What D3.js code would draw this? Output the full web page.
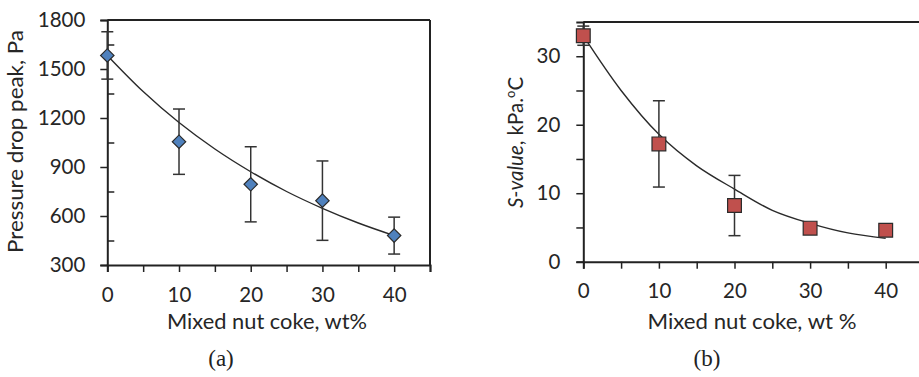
<!DOCTYPE html>
<html>
<head>
<meta charset="utf-8">
<script src="https://cdn.jsdelivr.net/npm/d3@7"></script>
<style>
  html, body { margin: 0; padding: 0; background: #fff; }
  svg { display: block; }
</style>
</head>
<body>
<svg id="chart" width="919" height="377"></svg>
<script>
// ---- data ----
const cokeContent = [0, 10, 20, 30, 40];            // Mixed nut coke, wt%
const pressurePeak = [1583, 1055, 794, 694, 480];    // Pa
const pressureErr  = [145, 200, 230, 243, 113];      // Pa
const sValue       = [33.0, 17.2, 8.2, 4.9, 4.6];    // kPa.°C
const sValueErr    = [1.4, 6.3, 4.4, 0, 0];

const trendX        = [0, 5, 10, 15, 20, 25, 30, 35, 40];
const pressureTrend = [1583, 1362, 1172, 1010, 871, 750, 647, 557, 480];
const sValueTrend   = [33.0, 25.0, 18.6, 14.0, 10.6, 7.5, 5.6, 4.2, 3.4];

const xTicks = [0, 10, 20, 30, 40];
const xMinorTicks = [5, 15, 25, 35, 45];
const pressureTicks = [300, 600, 900, 1200, 1500, 1800];
const pressureMinorTicks = [450, 750, 1050, 1350, 1650];
const sValueTicks = [0, 10, 20, 30];
const sValueMinorTicks = [5, 15, 25];

// ---- drawing ----
const svg = d3.select("#chart");
const AXIS = "#222";
const TICKFONT = "Lato, 'Open Sans', sans-serif";

function panel(cfg) {
  const g = svg.append("g");
  const x = d3.scaleLinear().domain([0, 45]).range(cfg.xRange);
  const y = d3.scaleLinear().domain(cfg.yDomain).range(cfg.yRange);

  // frame (top and right)
  g.append("line").attr("x1", x(0)).attr("x2", x(45)).attr("y1", y.range()[1]).attr("y2", y.range()[1])
    .attr("stroke", AXIS).attr("stroke-width", 2);
  g.append("line").attr("x1", x(45)).attr("x2", x(45)).attr("y1", y.range()[0]).attr("y2", y.range()[1])
    .attr("stroke", AXIS).attr("stroke-width", 2);

  // x axis
  g.append("g").attr("transform", `translate(0,${y.range()[0]})`)
    .call(d3.axisBottom(x).tickValues(xTicks).tickSize(7).tickPadding(15).tickFormat(d3.format("d")));
  g.append("g").attr("transform", `translate(0,${y.range()[0]})`)
    .call(d3.axisBottom(x).tickValues(xMinorTicks).tickSize(7).tickFormat(""))
    .select(".domain").remove();

  // y axis
  g.append("g").attr("transform", `translate(${x(0)},0)`)
    .call(d3.axisLeft(y).tickValues(cfg.yTicks).tickSize(7).tickPadding(cfg.yPad).tickFormat(d3.format("d")));
  g.append("g").attr("transform", `translate(${x(0)},0)`)
    .call(d3.axisLeft(y).tickValues(cfg.yMinor).tickSize(cfg.minorInside ? -7 : 7).tickFormat(""))
    .select(".domain").remove();

  g.selectAll(".domain").attr("stroke", AXIS).attr("stroke-width", 2);
  g.selectAll(".tick line").attr("stroke", AXIS).attr("stroke-width", 1.5);
  g.selectAll(".tick text").attr("font-family", TICKFONT).attr("font-size", 20.5).attr("fill", "#262626");

  // trend curve
  const line = d3.line().x((d, i) => x(trendX[i])).y(d => y(d)).curve(d3.curveCatmullRom);
  g.append("path").datum(cfg.trend).attr("d", line)
    .attr("fill", "none").attr("stroke", "#2a2a2a").attr("stroke-width", 1.4);

  // error bars
  const eb = g.append("g").attr("stroke", "#333").attr("stroke-width", 1.5);
  cfg.values.forEach((v, i) => {
    const e = cfg.errors[i];
    if (!e) return;
    const cx = x(cokeContent[i]);
    eb.append("line").attr("x1", cx).attr("x2", cx).attr("y1", y(v - e)).attr("y2", y(v + e));
    eb.append("line").attr("x1", cx - 6).attr("x2", cx + 6).attr("y1", y(v - e)).attr("y2", y(v - e));
    eb.append("line").attr("x1", cx - 6).attr("x2", cx + 6).attr("y1", y(v + e)).attr("y2", y(v + e));
  });

  // markers
  const sym = d3.symbol().type(cfg.symbol).size(cfg.symbolSize);
  g.selectAll("path.mark").data(cfg.values).join("path").attr("class", "mark")
    .attr("d", sym)
    .attr("transform", (d, i) => `translate(${x(cokeContent[i])},${y(d)})${cfg.rotate ? " rotate(45)" : ""}`)
    .attr("fill", cfg.fill).attr("stroke", "#2b2b2b").attr("stroke-width", 1.2);

  // x title
  g.append("text").attr("x", cfg.xTitleX).attr("y", 329).attr("text-anchor", "middle")
    .attr("font-family", TICKFONT).attr("font-size", 21).attr("fill", "#262626")
    .attr("textLength", cfg.xTitleLen).attr("lengthAdjust", "spacingAndGlyphs")
    .text(cfg.xTitle);

  // panel label
  g.append("text").attr("x", cfg.labelX).attr("y", 366).attr("text-anchor", "middle")
    .attr("font-family", "'Liberation Serif', 'Times New Roman', serif").attr("font-size", 23).attr("fill", "#222")
    .text(cfg.label);
  return {g, x, y};
}

// Panel (a)
const pa = panel({
  xRange: [107.3, 430], yDomain: [300, 1800], yRange: [265, 20],
  yTicks: pressureTicks, yMinor: pressureMinorTicks, minorInside: true, yPad: 15,
  values: pressurePeak, errors: pressureErr, trend: pressureTrend,
  symbol: d3.symbolSquare, symbolSize: 90, rotate: true, fill: "#4f81bd",
  xTitle: "Mixed nut coke, wt%", xTitleX: 267, xTitleLen: 200,
  label: "(a)", labelX: 221
});
pa.g.append("text")
  .attr("transform", "translate(23,141.5) rotate(-90)")
  .attr("text-anchor", "middle").attr("font-family", TICKFONT).attr("font-size", 21).attr("fill", "#262626")
  .attr("textLength", 223).attr("lengthAdjust", "spacingAndGlyphs")
  .text("Pressure drop peak, Pa");

// Panel (b)
const pb = panel({
  xRange: [583.3, 923.5], yDomain: [0, 35], yRange: [261.7, 22],
  yTicks: sValueTicks, yMinor: sValueMinorTicks, minorInside: false, yPad: 16,
  values: sValue, errors: sValueErr, trend: sValueTrend,
  symbol: d3.symbolSquare, symbolSize: 190, rotate: false, fill: "#c0504d",
  xTitle: "Mixed nut coke, wt %", xTitleX: 752, xTitleLen: 209,
  label: "(b)", labelX: 707
});
const yl = pb.g.append("text")
  .attr("transform", "translate(523,142.5) rotate(-90)")
  .attr("text-anchor", "middle").attr("font-family", TICKFONT).attr("font-size", 20.5).attr("fill", "#262626");
yl.append("tspan").attr("font-style", "italic").text("S-value");
yl.append("tspan").text(", kPa.");
yl.append("tspan").attr("font-size", 13).attr("dy", -8).text("o");
yl.append("tspan").attr("dy", 8).text("C");
</script>
</body>
</html>
